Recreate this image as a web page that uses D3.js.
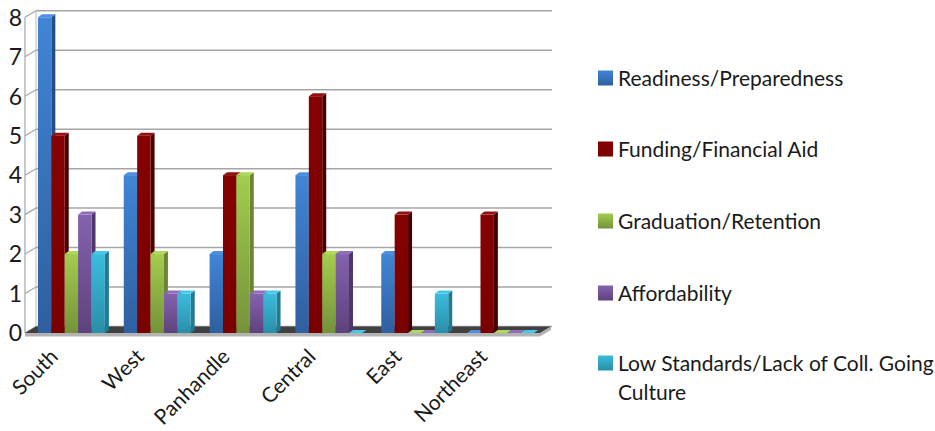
<!DOCTYPE html>
<html>
<head>
<meta charset="utf-8">
<script src="https://cdn.jsdelivr.net/npm/d3@7"></script>
<style>
  html, body { margin: 0; padding: 0; background: #fff; }
  svg text { font-family: Lato, "Open Sans", sans-serif; fill: #1a1a1a; }
</style>
</head>
<body>
<svg id="chart" width="935" height="431"></svg>
<script>
// Regions along the horizontal axis
const categories = ["South", "West", "Panhandle", "Central", "East", "Northeast"];

// Issue series, one value per region
const seriesNames = [
  "Readiness/Preparedness",
  "Funding/Financial Aid",
  "Graduation/Retention",
  "Affordability",
  "Low Standards/Lack of Coll. Going Culture"
];
const readiness   = [8, 4, 2, 4, 2, 0];
const funding     = [5, 5, 4, 6, 3, 3];
const graduation  = [2, 2, 4, 2, 0, 0];
const affordable  = [3, 1, 1, 2, 0, 0];
const lowStandard = [2, 1, 1, 0, 1, 0];
const seriesValues = [readiness, funding, graduation, affordable, lowStandard];

const yTicks = [0, 1, 2, 3, 4, 5, 6, 7, 8];

// Face colours per series: front gradient top/bottom, side, top
const palette = [
  { top: "#4085d6", bottom: "#2f5f9f", side: "#264d82", cap: "#4a8fe0" },
  { top: "#850202", bottom: "#7a0000", side: "#470000", cap: "#951010" },
  { top: "#a2cd4e", bottom: "#75923a", side: "#6a8632", cap: "#addb58" },
  { top: "#8462ae", bottom: "#5e427d", side: "#4f3769", cap: "#8f6dba" },
  { top: "#3bbcdd", bottom: "#2a8ea8", side: "#227a91", cap: "#48c8e8" }
];

const svg = d3.select("#chart");
const defs = svg.append("defs");
palette.forEach((p, i) => {
  const g = defs.append("linearGradient")
    .attr("id", "grad" + i).attr("x1", 0).attr("y1", 0).attr("x2", 0).attr("y2", 1);
  g.append("stop").attr("offset", "0%").attr("stop-color", p.top);
  g.append("stop").attr("offset", "100%").attr("stop-color", p.bottom);
});

// Oblique 3D geometry: wall depth and bar depth
const wallDx = 11, wallDy = -6.5;
const barDx = 4, barDy = -3;

const x0 = d3.scaleBand().domain(categories).range([28.5, 543.5])
  .paddingInner(0.22).paddingOuter(0.11);
const x1 = d3.scaleBand().domain(d3.range(seriesNames.length)).range([0, x0.bandwidth()]);
const y = d3.scaleLinear().domain([0, 8]).range([333, 17.3]);

const frontLeft = 25, frontRight = 540;

// Back wall gridlines
svg.append("g").selectAll("line").data(yTicks).join("line")
  .attr("x1", frontLeft + wallDx).attr("x2", frontRight + wallDx + 1)
  .attr("y1", d => y(d) + wallDy).attr("y2", d => y(d) + wallDy)
  .attr("stroke", "#a6a6a6").attr("stroke-width", 1.5);

// Side wall: back edge, front edge and diagonal ticks
svg.append("line")
  .attr("x1", frontLeft + wallDx).attr("x2", frontLeft + wallDx)
  .attr("y1", y(8) + wallDy).attr("y2", y(0) + wallDy)
  .attr("stroke", "#bdbdbd").attr("stroke-width", 1);
svg.append("line")
  .attr("x1", frontLeft).attr("x2", frontLeft)
  .attr("y1", y(8)).attr("y2", y(0))
  .attr("stroke", "#a6a6a6").attr("stroke-width", 1.2);
svg.append("g").selectAll("line").data(yTicks).join("line")
  .attr("x1", frontLeft).attr("x2", frontLeft + wallDx)
  .attr("y1", d => y(d)).attr("y2", d => y(d) + wallDy)
  .attr("stroke", "#a6a6a6").attr("stroke-width", 1.2);

// Floor slab
const floorY = y(0);
svg.append("path")
  .attr("d", `M${frontLeft},${floorY + 3.5} L${frontRight},${floorY + 3.5} L${frontRight + wallDx},${floorY + wallDy + 3.5} L${frontRight + wallDx},${floorY + wallDy} L${frontRight},${floorY} L${frontLeft},${floorY} Z`)
  .attr("fill", "#b3b3b3");
svg.append("path")
  .attr("d", `M${frontLeft},${floorY} L${frontRight},${floorY} L${frontRight + wallDx},${floorY + wallDy} L${frontLeft + wallDx},${floorY + wallDy} Z`)
  .attr("fill", "#404040");

// Y axis labels
svg.append("g").selectAll("text").data(yTicks).join("text")
  .attr("x", 22).attr("y", d => y(d))
  .attr("dy", "0.36em").attr("text-anchor", "end")
  .attr("font-size", 23)
  .text(d => d);

// Bars, painted left to right so neighbours hide side faces
const bars = [];
categories.forEach((c, ci) => {
  seriesValues.forEach((vals, si) => {
    bars.push({ c, si, v: vals[ci] });
  });
});

const barG = svg.append("g");
bars.forEach(b => {
  const xl = x0(b.c) + x1(b.si);
  const w = x1.bandwidth();
  const yt = y(b.v), yb = y(0);
  const p = palette[b.si];
  const g = barG.append("g");
  if (b.v > 0) {
    g.append("path")
      .attr("d", `M${xl + w},${yt} L${xl + w + barDx},${yt + barDy} L${xl + w + barDx},${yb + barDy} L${xl + w},${yb} Z`)
      .attr("fill", p.side);
  }
  g.append("path")
    .attr("d", `M${xl},${yt} L${xl + barDx},${yt + barDy} L${xl + w + barDx},${yt + barDy} L${xl + w},${yt} Z`)
    .attr("fill", p.cap);
  if (b.v > 0) {
    g.append("rect")
      .attr("x", xl).attr("y", yt).attr("width", w).attr("height", yb - yt)
      .attr("fill", `url(#grad${b.si})`);
  }
});

// Category labels, rotated
svg.append("g").selectAll("text").data(categories).join("text")
  .attr("text-anchor", "end")
  .attr("font-size", 21)
  .attr("transform", d => `translate(${x0(d) + x0.bandwidth() / 2 - 12},${358}) rotate(-45)`)
  .text(d => d);

// Legend
const legendRows = [78, 149, 221, 293, 363];
const legend = svg.append("g");
seriesNames.forEach((name, i) => {
  legend.append("rect")
    .attr("x", 598).attr("y", legendRows[i] - 7.5).attr("width", 15).attr("height", 15)
    .attr("fill", `url(#grad${i})`);
  const t = legend.append("text")
    .attr("x", 618).attr("y", legendRows[i]).attr("dy", "0.36em")
    .attr("font-size", 21);
  if (i === 4) {
    t.append("tspan").attr("x", 618).text("Low Standards/Lack of Coll. Going");
    t.append("tspan").attr("x", 618).attr("dy", "1.4em").text("Culture");
  } else {
    t.text(name);
  }
});
</script>
</body>
</html>
